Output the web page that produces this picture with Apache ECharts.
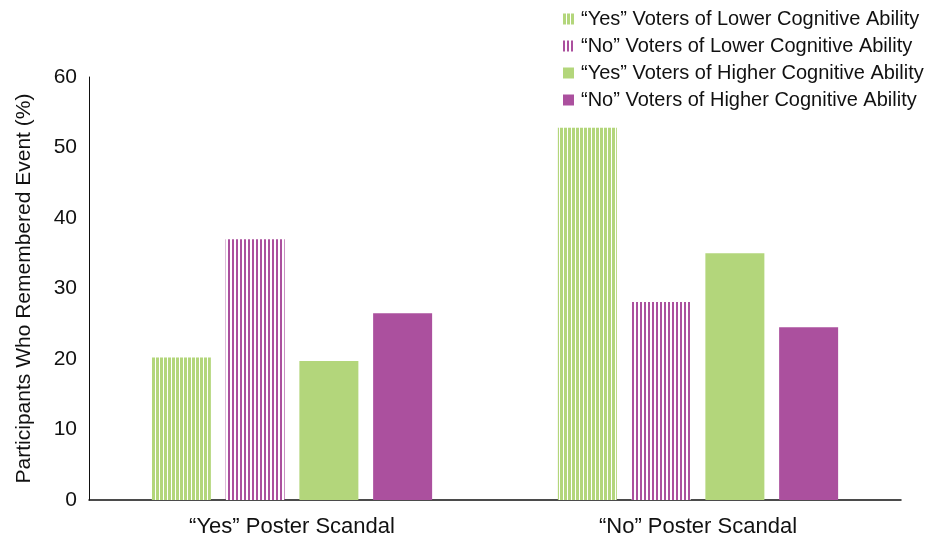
<!DOCTYPE html>
<html>
<head>
<meta charset="utf-8">
<script src="https://cdn.jsdelivr.net/npm/echarts@6/dist/echarts.min.js"></script>
<style>
html,body{margin:0;padding:0;background:#fff;}
#chart{width:929px;height:542px;}
</style>
</head>
<body>
<div id="chart"></div>
<script>
var categories = ['\u201cYes\u201d Poster Scandal', '\u201cNo\u201d Poster Scandal'];
var seriesNames = [
  '\u201cYes\u201d Voters of Lower Cognitive Ability',
  '\u201cNo\u201d Voters of Lower Cognitive Ability',
  '\u201cYes\u201d Voters of Higher Cognitive Ability',
  '\u201cNo\u201d Voters of Higher Cognitive Ability'
];
var yesLower = [20.2, 52.8];
var noLower = [37.0, 28.1];
var yesHigher = [19.7, 35.0];
var noHigher = [26.5, 24.5];
var yTicks = [0, 10, 20, 30, 40, 50, 60];

var GREEN = '#b3d67b';
var PURPLE = '#ab509e';
var FONT = '"Liberation Sans", Arial, sans-serif';

function stripe(color, on, off) {
  var c = document.createElement('canvas');
  c.width = on + off; c.height = 4;
  var ctx = c.getContext('2d');
  ctx.fillStyle = '#ffffff';
  ctx.fillRect(0, 0, c.width, c.height);
  ctx.fillStyle = color;
  ctx.fillRect(0, 0, on, c.height);
  return {image: c, repeat: 'repeat'};
}

var fills = [stripe(GREEN, 3, 1), stripe(PURPLE, 2, 2), GREEN, PURPLE];
var values = [yesLower, noLower, yesHigher, noHigher];

var chart = echarts.init(document.getElementById('chart'), null, {renderer: 'canvas'});
chart.setOption({
  animation: false,
  backgroundColor: '#fff',
  textStyle: {fontFamily: FONT},
  legend: {
    orient: 'vertical',
    left: 563,
    top: 9,
    padding: 0,
    itemWidth: 11,
    itemHeight: 11,
    itemGap: 7,
    icon: 'rect',
    textStyle: {fontFamily: FONT, fontSize: 20, color: '#111', lineHeight: 20, padding: [0,0,0,2]},
    data: seriesNames
  },
  grid: {left: 89, right: 28, top: 77, bottom: 42, containLabel: false},
  xAxis: {
    type: 'category',
    data: categories,
    axisTick: {show: false},
    axisLine: {lineStyle: {color: '#111', width: 1.5}},
    axisLabel: {fontFamily: FONT, fontSize: 22, color: '#111', margin: 16}
  },
  yAxis: {
    type: 'value',
    min: yTicks[0],
    max: yTicks[yTicks.length - 1],
    interval: 10,
    name: 'Participants Who Remembered Event (%)',
    nameLocation: 'middle',
    nameGap: 54,
    nameTextStyle: {fontFamily: FONT, fontSize: 21, color: '#111'},
    axisLine: {show: true, lineStyle: {color: '#111', width: 1}},
    axisTick: {show: false},
    splitLine: {show: false},
    axisLabel: {fontFamily: FONT, fontSize: 21, color: '#111', margin: 12}
  },
  series: seriesNames.map(function (n, i) {
    return {
      name: n,
      type: 'bar',
      data: values[i],
      barWidth: 59,
      barGap: '25%',
      itemStyle: {color: fills[i]}
    };
  })
});
</script>
</body>
</html>
